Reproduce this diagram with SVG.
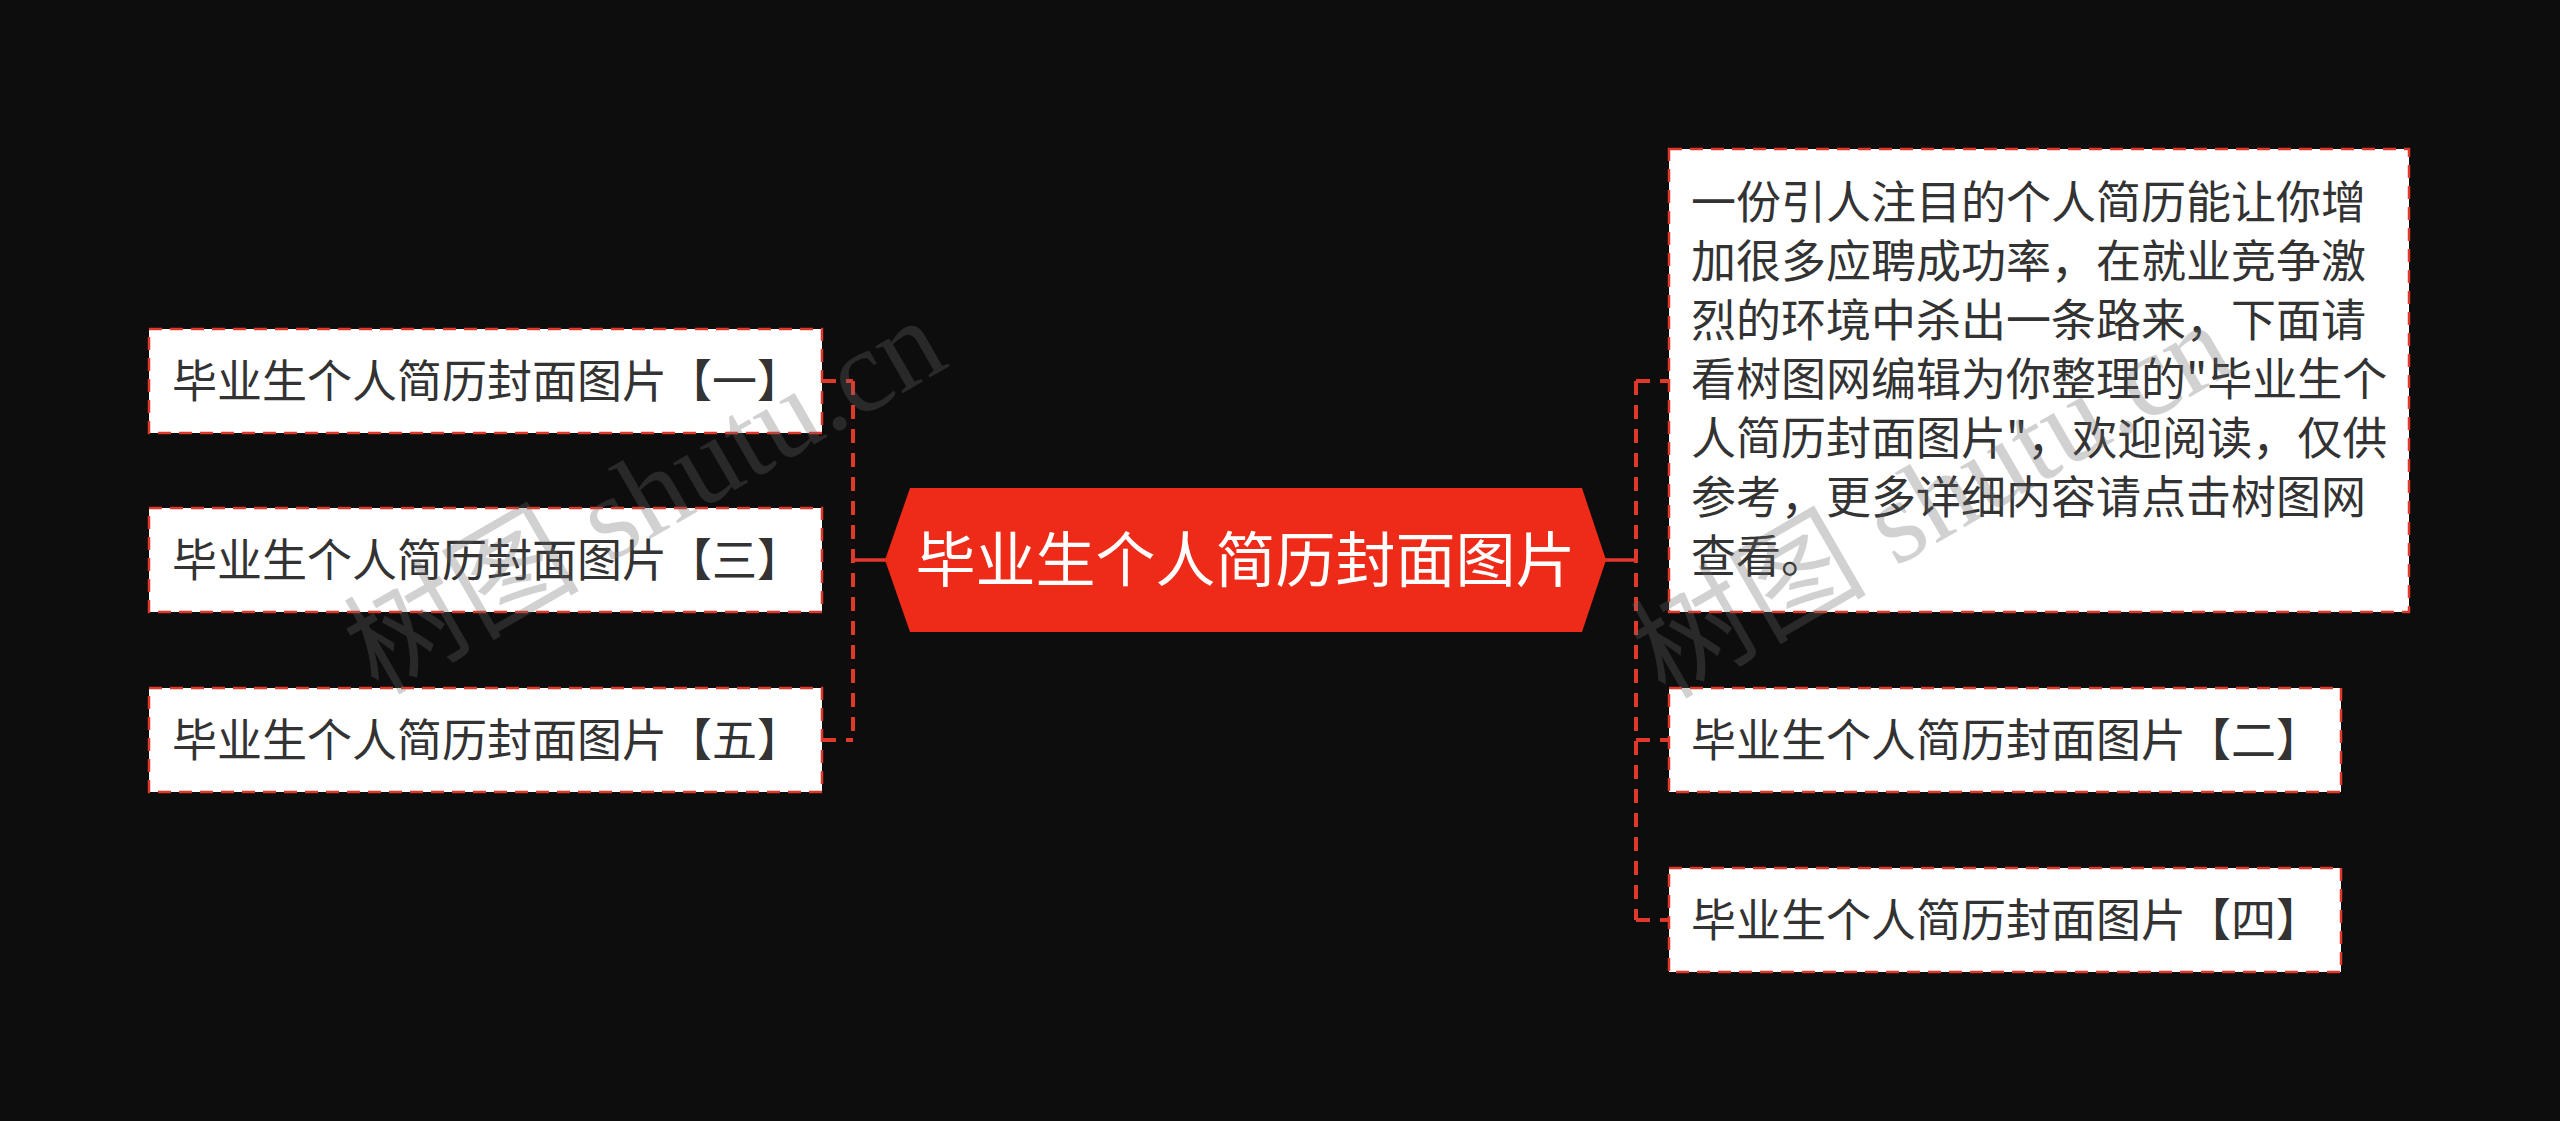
<svg xmlns="http://www.w3.org/2000/svg" width="2560" height="1121" viewBox="0 0 2560 1121">
  <style>
    .bg { fill: #0d0d0d; }
    .box { fill: #ffffff; stroke: #e0392b; stroke-width: 2.5; stroke-dasharray: 13 8; }
    .txt { font-family: "Noto Sans CJK SC", "Liberation Sans", sans-serif; font-size: 45px; fill: #333333; }
    .title { font-family: "Noto Sans CJK SC", "Liberation Sans", sans-serif; font-size: 60px; fill: #ffffff; }
    .hex { fill: #ee2a18; }
    .solid { stroke: #e0392b; stroke-width: 3.5; fill: none; }
    .dash { stroke: #e0392b; stroke-width: 4; fill: none; stroke-dasharray: 14 10; }
    .wm { font-family: "Liberation Serif", "Noto Sans CJK SC", serif; font-size: 118px; fill: #6a6a6a; opacity: 0.3; }
  </style>
  <rect class="bg" x="0" y="0" width="2560" height="1121"/>

  <g id="connectors">
    <line class="solid" x1="853" y1="560" x2="886" y2="560"/>
    <line class="dash" x1="853" y1="381" x2="853" y2="740"/>
    <line class="dash" x1="822" y1="381" x2="853" y2="381"/>
    <line class="dash" x1="822" y1="740" x2="853" y2="740"/>
    <line class="solid" x1="1605" y1="560" x2="1636" y2="560"/>
    <line class="dash" x1="1636" y1="381" x2="1636" y2="920"/>
    <line class="dash" x1="1636" y1="381" x2="1669" y2="381"/>
    <line class="dash" x1="1636" y1="740" x2="1669" y2="740"/>
    <line class="dash" x1="1636" y1="920" x2="1669" y2="920"/>
  </g>

  <g id="root">
    <polygon class="hex" points="885,560 910,488 1582,488 1606,560 1582,632 910,632"/>
    <text class="title" x="1245.5" y="582" text-anchor="middle">毕业生个人简历封面图片</text>
  </g>

  <g id="node-1">
    <rect class="box" x="149" y="329" width="673" height="104"/>
    <text class="txt" x="172" y="398">毕业生个人简历封面图片【一】</text>
  </g>
  <g id="node-3">
    <rect class="box" x="149" y="508" width="673" height="104"/>
    <text class="txt" x="172" y="577">毕业生个人简历封面图片【三】</text>
  </g>
  <g id="node-5">
    <rect class="box" x="149" y="688" width="673" height="104"/>
    <text class="txt" x="172" y="757">毕业生个人简历封面图片【五】</text>
  </g>

  <g id="node-intro">
    <rect class="box" x="1669" y="149" width="740" height="463"/>
    <text class="txt">
      <tspan x="1691" y="219">一份引人注目的个人简历能让你增</tspan>
      <tspan x="1691" y="278">加很多应聘成功率，在就业竞争激</tspan>
      <tspan x="1691" y="337">烈的环境中杀出一条路来，下面请</tspan>
      <tspan x="1691" y="396">看树图网编辑为你整理的"毕业生个</tspan>
      <tspan x="1691" y="455">人简历封面图片"，欢迎阅读，仅供</tspan>
      <tspan x="1691" y="514">参考，更多详细内容请点击树图网</tspan>
      <tspan x="1691" y="573">查看。</tspan>
    </text>
  </g>
  <g id="node-2">
    <rect class="box" x="1669" y="688" width="672" height="104"/>
    <text class="txt" x="1691" y="757">毕业生个人简历封面图片【二】</text>
  </g>
  <g id="node-4">
    <rect class="box" x="1669" y="868" width="672" height="104"/>
    <text class="txt" x="1691" y="937">毕业生个人简历封面图片【四】</text>
  </g>

  <g id="watermarks">
    <text class="wm" transform="translate(378,696) rotate(-30)">树图 shutu.cn</text>
    <text class="wm" transform="translate(1665,700) rotate(-30)">树图 shutu.cn</text>
  </g>
</svg>
